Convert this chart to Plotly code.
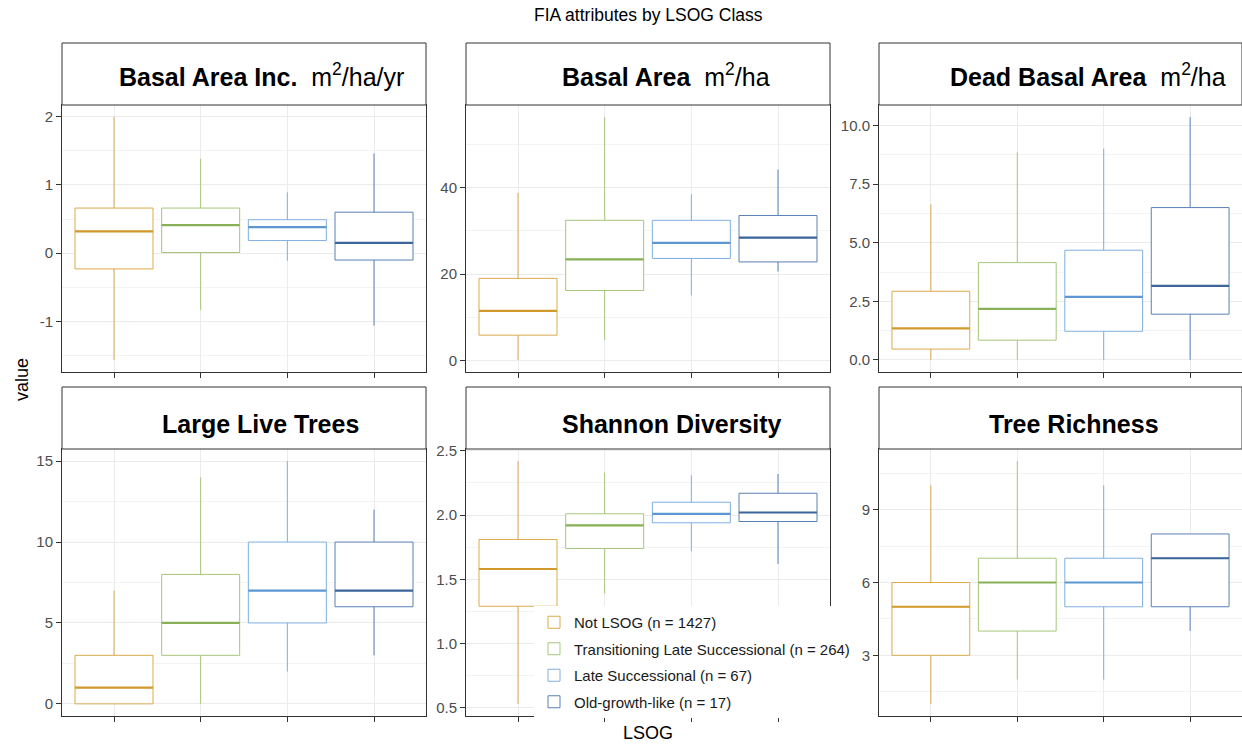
import plotly.graph_objects as go

W, H = 1242, 744

classes = ["Not LSOG (n = 1427)",
           "Transitioning Late Successional (n = 264)",
           "Late Successional (n = 67)",
           "Old-growth-like (n = 17)"]
box_colors = ["#DBAA4C", "#A6C67B", "#7FAFDF", "#5A80B5"]
median_colors = ["#D29A2C", "#88B057", "#5D97D2", "#3B659B"]

# ---- data (five-number summaries) ----
bai_low = [-1.56, -0.83, -0.11, -1.06]
bai_q1 = [-0.23, 0.01, 0.185, -0.10]
bai_med = [0.32, 0.41, 0.38, 0.15]
bai_q3 = [0.66, 0.66, 0.49, 0.60]
bai_high = [1.99, 1.38, 0.89, 1.46]

ba_low = [0.2, 4.8, 15.1, 20.6]
ba_q1 = [5.9, 16.2, 23.6, 22.8]
ba_med = [11.5, 23.4, 27.2, 28.4]
ba_q3 = [19.0, 32.4, 32.4, 33.5]
ba_high = [38.7, 56.2, 38.4, 44.1]

dba_low = [0.0, 0.0, 0.0, 0.0]
dba_q1 = [0.46, 0.84, 1.22, 1.95]
dba_med = [1.34, 2.18, 2.69, 3.16]
dba_q3 = [2.93, 4.15, 4.68, 6.50]
dba_high = [6.64, 8.86, 9.02, 10.36]

llt_low = [0, 0, 2, 3]
llt_q1 = [0, 3, 5, 6]
llt_med = [1, 5, 7, 7]
llt_q3 = [3, 8, 10, 10]
llt_high = [7, 14, 15, 12]

sh_low = [0.53, 1.39, 1.72, 1.62]
sh_q1 = [1.29, 1.74, 1.94, 1.95]
sh_med = [1.58, 1.92, 2.01, 2.02]
sh_q3 = [1.81, 2.01, 2.10, 2.17]
sh_high = [2.42, 2.33, 2.31, 2.32]

tr_low = [1, 2, 2, 4]
tr_q1 = [3, 4, 5, 5]
tr_med = [5, 6, 6, 7]
tr_q3 = [6, 7, 7, 8]
tr_high = [10, 11, 10, 8]

# tick labels per panel
bai_ticks = [-1, 0, 1, 2]
bai_labels = ["-1", "0", "1", "2"]
ba_ticks = [0, 20, 40]
ba_labels = ["0", "20", "40"]
dba_ticks = [0, 2.5, 5, 7.5, 10]
dba_labels = ["0.0", "2.5", "5.0", "7.5", "10.0"]
llt_ticks = [0, 5, 10, 15]
llt_labels = ["0", "5", "10", "15"]
sh_ticks = [0.5, 1.0, 1.5, 2.0, 2.5]
sh_labels = ["0.5", "1.0", "1.5", "2.0", "2.5"]
tr_ticks = [3, 6, 9]
tr_labels = ["3", "6", "9"]

panel_titles = [
    "<b>Basal Area Inc.</b>\u00a0\u00a0m<sup>2</sup>/ha/yr",
    "<b>Basal Area</b>\u00a0\u00a0m<sup>2</sup>/ha",
    "<b>Dead Basal Area</b>\u00a0\u00a0m<sup>2</sup>/ha",
    "<b>Large Live Trees</b>",
    "<b>Shannon Diversity</b>",
    "<b>Tree Richness</b>",
]
panel_stats = [
    (bai_low, bai_q1, bai_med, bai_q3, bai_high),
    (ba_low, ba_q1, ba_med, ba_q3, ba_high),
    (dba_low, dba_q1, dba_med, dba_q3, dba_high),
    (llt_low, llt_q1, llt_med, llt_q3, llt_high),
    (sh_low, sh_q1, sh_med, sh_q3, sh_high),
    (tr_low, tr_q1, tr_med, tr_q3, tr_high),
]
panel_ticks = [(bai_ticks, bai_labels), (ba_ticks, ba_labels), (dba_ticks, dba_labels),
               (llt_ticks, llt_labels), (sh_ticks, sh_labels), (tr_ticks, tr_labels)]

# ---- layout geometry (pixels) ----
col_px = [(62, 426), (466, 830), (879, 1242)]
row_px = [(43, 105, 372), (387, 449, 716)]  # strip top, plot top, plot bottom
title_px = [(261, 75), (666, 75), (1088, 75), (260, 424), (672, 424), (1074, 424)]

FONT = "Liberation Sans, Arial, sans-serif"
fig = go.Figure()
layout = {}
shapes = []
annotations = []
BOXW = 0.9

for k in range(6):
    r, c = divmod(k, 3)
    ax = "" if k == 0 else str(k + 1)
    xa, ya = "x" + ax, "y" + ax
    low, q1, med, q3, high = panel_stats[k]
    for i, name in enumerate(classes):
        fig.add_trace(go.Box(
            x=[i], lowerfence=[low[i]], q1=[q1[i]], median=[med[i]], q3=[q3[i]],
            upperfence=[high[i]], name=name, legendgroup=name,
            showlegend=(k == 0), boxpoints=False, width=BOXW, whiskerwidth=0,
            fillcolor="white", line=dict(color=box_colors[i], width=1),
            xaxis=xa, yaxis=ya, hoverinfo="skip"))
        fig.add_trace(go.Scatter(
            x=[i - BOXW / 2, i + BOXW / 2], y=[med[i], med[i]], mode="lines",
            line=dict(color=median_colors[i], width=2.2), showlegend=False,
            legendgroup=name, xaxis=xa, yaxis=ya, hoverinfo="skip"))
    lo, hi = min(low), max(high)
    pad = 0.05 * (hi - lo)
    tv, tt = panel_ticks[k]
    dt = tv[1] - tv[0]
    x0p, x1p = col_px[c]
    st, pt, pb = row_px[r]
    layout["xaxis" + ax] = dict(
        domain=[x0p / W, min(x1p / W, 1)], anchor=ya, range=[-0.6, 3.6],
        tickvals=[0, 1, 2, 3], ticktext=["", "", "", ""], showgrid=True,
        gridcolor="#EBEBEB", gridwidth=1, ticks="outside", ticklen=5,
        tickcolor="#333333", showline=True, mirror=True, linecolor="#333333",
        linewidth=1, zeroline=False, fixedrange=True, automargin=False)
    layout["yaxis" + ax] = dict(
        domain=[1 - pb / H, 1 - pt / H], anchor=xa, range=[lo - pad, hi + pad],
        tickmode="array", tickvals=tv, ticktext=tt, showgrid=True,
        gridcolor="#EBEBEB", gridwidth=1,
        minor=dict(tick0=tv[0], dtick=dt / 2, showgrid=True,
                   gridcolor="#F3F3F3", gridwidth=1),
        ticks="outside", ticklen=5, tickcolor="#333333", showline=True,
        mirror=True, linecolor="#333333", linewidth=1, zeroline=False,
        tickfont=dict(size=15, color="#4D4D4D", family=FONT), fixedrange=True,
        automargin=False)
    shapes.append(dict(type="rect", xref="paper", yref="paper",
                       x0=x0p / W, x1=min(x1p / W, 1), y0=1 - pt / H, y1=1 - st / H,
                       fillcolor="white", line=dict(color="#333333", width=1)))
    tx, ty = title_px[k]
    annotations.append(dict(text=panel_titles[k], xref="paper", yref="paper",
                            x=tx / W, y=1 - ty / H, xanchor="center", yanchor="middle",
                            showarrow=False, font=dict(size=25, color="black", family=FONT)))

annotations += [
    dict(text="FIA attributes by LSOG Class", xref="paper", yref="paper",
         x=648 / W, y=1 - 15 / H, xanchor="center", yanchor="middle",
         showarrow=False, font=dict(size=17.5, color="black", family=FONT)),
    dict(text="value", xref="paper", yref="paper", x=22 / W, y=1 - 380 / H,
         xanchor="center", yanchor="middle", textangle=-90, showarrow=False,
         font=dict(size=18, color="black", family=FONT)),
    dict(text="LSOG", xref="paper", yref="paper", x=648 / W, y=1 - 733 / H,
         xanchor="center", yanchor="middle", showarrow=False,
         font=dict(size=18, color="black", family=FONT)),
]

fig.update_layout(
    template="none",
    width=W, height=H, autosize=False, margin=dict(l=0, r=0, t=0, b=0, pad=0),
    paper_bgcolor="white", plot_bgcolor="white", boxmode="overlay",
    shapes=shapes, annotations=annotations,
    font=dict(family=FONT),
    legend=dict(x=534 / W, y=1 - 606 / H, xanchor="left", yanchor="top",
                bgcolor="white", traceorder="grouped", tracegroupgap=4,
                borderwidth=0,
                font=dict(size=15, color="#1A1A1A", family=FONT)),
    **layout)

fig.write_html("out.html", config={"displayModeBar": False},
               post_script="document.body.style.margin='0';document.body.style.overflow='hidden';")
